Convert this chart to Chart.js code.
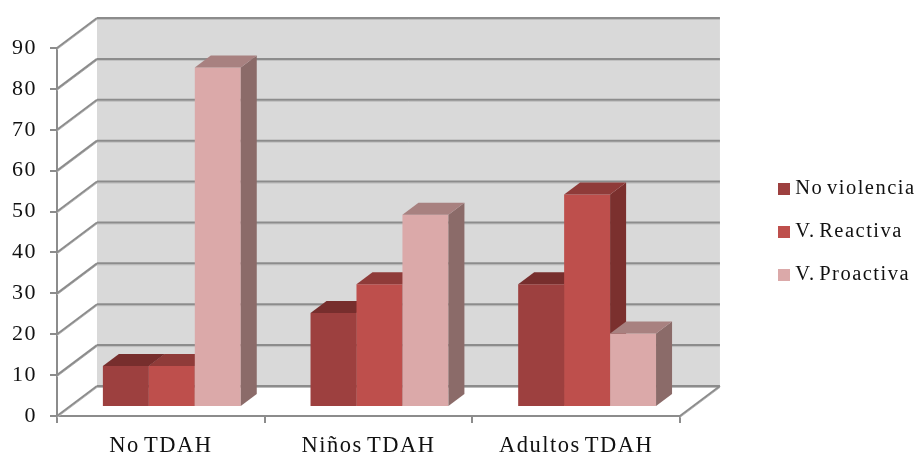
<!DOCTYPE html>
<html>
<head>
<meta charset="utf-8">
<script src="https://cdn.jsdelivr.net/npm/chart.js@4"></script>
<style>
  html, body { margin: 0; padding: 0; background: #fff; }
  canvas { display: block; }
</style>
</head>
<body>
<canvas id="c" width="917" height="454"></canvas>
<script>
const categories = ['No TDAH', 'Niños TDAH', 'Adultos TDAH'];
const noViolencia = [10, 23, 30];
const vReactiva = [10, 30, 52];
const vProactiva = [83, 47, 18];

const SERIF = '"Liberation Serif", serif';
const WALL_DX = 40, WALL_DY = 30;   // floor depth of the 3D box
const BAR_DX = 11, BAR_DY = 9;      // where the bars stand on the floor
const BAR_DEPTH_X = 16, BAR_DEPTH_Y = 12;
const GRID = '#8c8c8c', GRID_SOFT = '#bdbdbd';

// Front, top and side shades of each series
const shades = [
  { front: '#9d403f', top: '#772e2d', side: '#772e2d' },
  { front: '#be4f4c', top: '#8f3b39', side: '#7b302e' },
  { front: '#dba9a9', top: '#a88180', side: '#8b6b69' }
];

function poly(ctx, pts, fill) {
  ctx.beginPath();
  pts.forEach((p, i) => i ? ctx.lineTo(p[0], p[1]) : ctx.moveTo(p[0], p[1]));
  ctx.closePath();
  ctx.fillStyle = fill;
  ctx.fill();
}

function seg(ctx, x0, y0, x1, y1) {
  ctx.strokeStyle = GRID_SOFT;
  ctx.lineWidth = 1;
  ctx.beginPath(); ctx.moveTo(x0, y0 + 1.5); ctx.lineTo(x1, y1 + 1.5); ctx.stroke();
  ctx.strokeStyle = GRID;
  ctx.lineWidth = 2;
  ctx.beginPath(); ctx.moveTo(x0, y0); ctx.lineTo(x1, y1); ctx.stroke();
}

function setTextSpacing(ctx) {
  ctx.letterSpacing = '1.5px';
  ctx.wordSpacing = '-3px';
}

function drawWalls(chart) {
  const ctx = chart.ctx, y = chart.scales.y, a = chart.chartArea;
  const top = a.top - WALL_DY, floor = a.bottom - WALL_DY;
  const l = a.left, r = a.right;
  ctx.save();
  ctx.fillStyle = '#d9d9d9';
  ctx.fillRect(l + WALL_DX, top, r - l, floor - top);
  y.ticks.forEach(t => {
    const py = y.getPixelForValue(t.value);
    seg(ctx, l, py, l + WALL_DX, py - WALL_DY);
    seg(ctx, l + WALL_DX, py - WALL_DY, r + WALL_DX, py - WALL_DY);
  });
  seg(ctx, r, a.bottom, r + WALL_DX, floor);
  ctx.restore();
}

// Side and top faces of one series, placed from the front face of each bar
function drawFaces(ctx, meta, s) {
  meta.data.forEach(el => {
    const { x, y, base, width } = el.getProps(['x', 'y', 'base', 'width'], true);
    const l = x - width / 2, r = x + width / 2;
    poly(ctx, [[r, y], [r + BAR_DEPTH_X, y - BAR_DEPTH_Y],
               [r + BAR_DEPTH_X, base - BAR_DEPTH_Y], [r, base]], s.side);
    poly(ctx, [[l, y], [l + BAR_DEPTH_X, y - BAR_DEPTH_Y],
               [r + BAR_DEPTH_X, y - BAR_DEPTH_Y], [r, y]], s.top);
  });
}

const box3d = {
  id: 'box3d',
  beforeLayout(chart) {
    setTextSpacing(chart.ctx);
  },
  afterLayout(chart) {
    chart.legend.left = 760.5;
    chart.legend.right = 917;
  },
  beforeDraw(chart) {
    setTextSpacing(chart.ctx);
  },
  // Series are painted left to right so each one overlaps the faces of the previous
  beforeDatasetsDraw(chart) {
    const ctx = chart.ctx;
    drawWalls(chart);
    ctx.save();
    ctx.translate(BAR_DX, -BAR_DY);
    chart.getSortedVisibleDatasetMetas().forEach(meta => {
      meta.controller.draw();
      drawFaces(ctx, meta, shades[meta.index]);
    });
    ctx.restore();
    return false;
  }
};

const dataset = (label, data, i) => ({
  label, data,
  backgroundColor: shades[i].front,
  borderWidth: 0,
  barPercentage: 1,
  categoryPercentage: 0.664
});

new Chart(document.getElementById('c'), {
  type: 'bar',
  data: {
    labels: categories,
    datasets: [
      dataset('No violencia', noViolencia, 0),
      dataset('V. Reactiva', vReactiva, 1),
      dataset('V. Proactiva', vProactiva, 2)
    ]
  },
  plugins: [box3d],
  options: {
    responsive: false,
    animation: false,
    layout: { padding: { top: 48, left: 0, right: 72, bottom: 0 } },
    scales: {
      x: {
        afterFit(scale) { scale.height = 38; },
        grid: { drawOnChartArea: false, drawTicks: true, tickLength: 7, color: GRID, lineWidth: 2 },
        border: { display: true, color: GRID, width: 2 },
        ticks: { color: '#111', font: { family: SERIF, size: 22.5 }, padding: 10, maxRotation: 0 }
      },
      y: {
        min: 0, max: 90,
        afterFit(scale) { scale.width = 57; },
        grid: { drawOnChartArea: false, drawTicks: true, tickLength: 7, color: GRID, lineWidth: 2 },
        border: { display: true, color: GRID, width: 2 },
        ticks: { stepSize: 10, color: '#111', font: { family: SERIF, size: 22 }, padding: 13 }
      }
    },
    plugins: {
      tooltip: { enabled: false },
      legend: {
        position: 'right',
        fullSize: false,
        labels: {
          // A tiny box with a thick same-coloured outline keeps the text close to the swatch
          boxWidth: 2, boxHeight: 2, padding: 22.5,
          color: '#111',
          font: { family: SERIF, size: 20.5 },
          generateLabels: chart => Chart.defaults.plugins.legend.labels.generateLabels(chart)
            .map(item => ({ ...item, lineWidth: 10, strokeStyle: item.fillStyle, lineJoin: 'miter', lineDash: [] }))
        }
      }
    }
  }
});
</script>
</body>
</html>
